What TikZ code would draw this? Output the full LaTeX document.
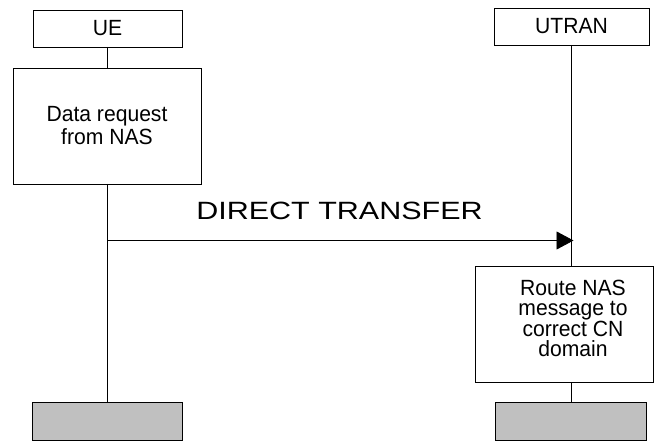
\documentclass[tikz,border=0pt]{standalone}
\usepackage{fontspec}
\setmainfont{Liberation Sans}
\newfontfamily\boxfont[FakeStretch=0.96]{Liberation Sans}
\usetikzlibrary{arrows.meta}
\definecolor{boxgray}{HTML}{C0C0C0}
\begin{document}
\begin{tikzpicture}[x=1pt,y=-1pt,
  entity/.style={draw=black,line width=0.9pt,fill=white,inner sep=0pt,font=\boxfont\fontsize{22}{23}\selectfont},
  action/.style={draw=black,line width=0.9pt,fill=white,inner sep=0pt,align=center,font=\boxfont\fontsize{22}{23}\selectfont},
  endbox/.style={draw=black,line width=0.9pt,fill=boxgray,inner sep=0pt},
  life/.style={line width=0.9pt,black},
  msg/.style={line width=0.9pt,-{Triangle[length=17pt,width=18pt]}}]
\useasboundingbox (0,0) rectangle (654,441);
% entities
\node[entity,minimum width=149pt,minimum height=37pt] (ue) at (107.5,28.5) {UE};
\node[entity,minimum width=155pt,minimum height=37pt] (utran) at (571.5,26.5) {UTRAN};
% action boxes
\node[action,minimum width=188pt,minimum height=116pt] (data) at (107,126) {Data request\\from NAS};
\node[draw=black,line width=0.9pt,fill=white,minimum width=178pt,minimum height=116pt,inner sep=0pt] (route) at (564,324) {};
\node[align=center,inner sep=0pt,font=\boxfont\fontsize{22}{20.3}\selectfont] (routetext) at (573,318.5) {Route NAS\\message to\\correct CN\\domain};
% end boxes
\node[endbox,minimum width=150pt,minimum height=38pt] (gl) at (107,421) {};
\node[endbox,minimum width=151pt,minimum height=38pt] (gr) at (570.5,421) {};
% lifelines
\coordinate (u1) at (107,47);
\coordinate (u2) at (107,68);
\coordinate (u3) at (107,184);
\coordinate (u4) at (107,402);
\coordinate (t1) at (571,45);
\coordinate (t2) at (571,266);
\coordinate (t3) at (571,382);
\coordinate (t4) at (571,402);
\draw[life] (u1) -- (u2);
\draw[life] (u3) -- (u4);
\draw[life] (t1) -- (t2);
\draw[life] (t3) -- (t4);
% message
\coordinate (m0) at (107,240.5);
\coordinate (m1) at (573.5,240.5);
\draw[msg] (m0) -- (m1);
\node[inner sep=0pt,anchor=base] (lbl) at (339.5,220) {\fontsize{25}{28}\selectfont\scalebox{1.22}[1]{DIRECT TRANSFER}};
\end{tikzpicture}
\end{document}
